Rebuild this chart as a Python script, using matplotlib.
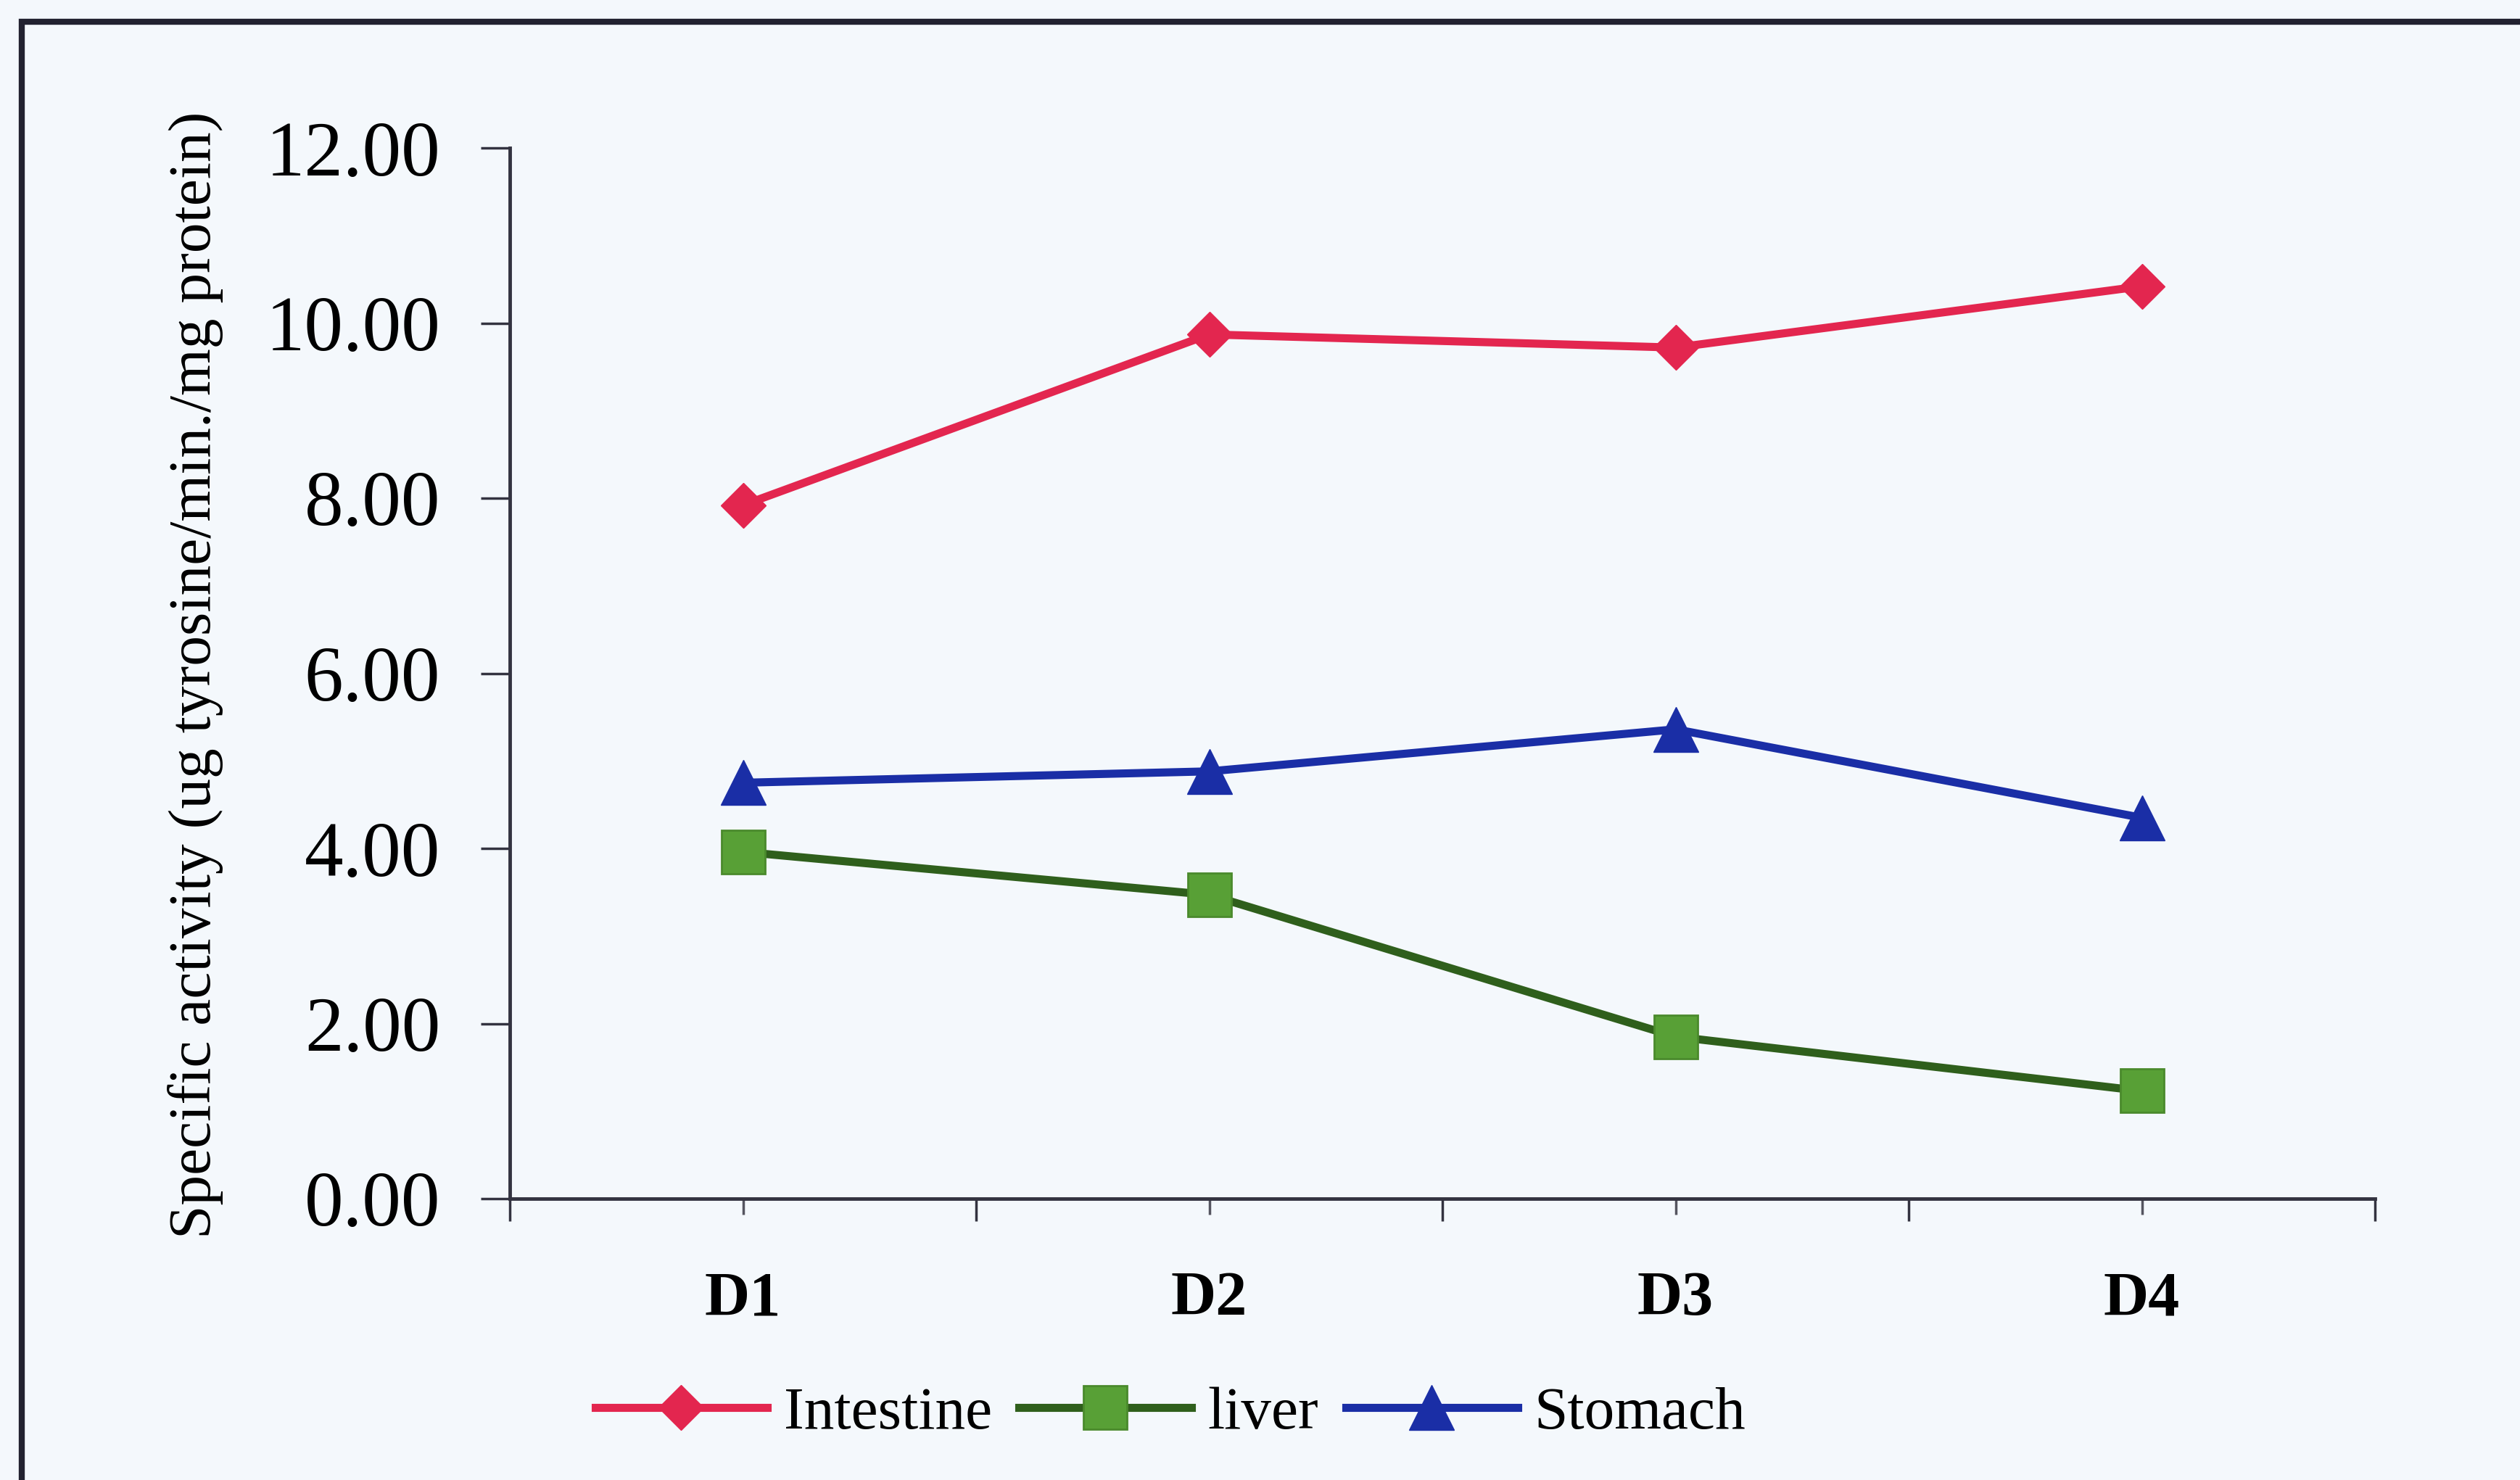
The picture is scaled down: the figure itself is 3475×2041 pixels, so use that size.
import matplotlib
matplotlib.use("Agg")
import matplotlib.pyplot as plt
from matplotlib.patches import Rectangle

categories = ["D1", "D2", "D3", "D4"]
intestine = [7.92, 9.87, 9.72, 10.42]
liver = [3.96, 3.47, 1.85, 1.23]
stomach = [4.75, 4.88, 5.36, 4.35]
yticks = [0, 2, 4, 6, 8, 10, 12]
ylabel = "Specific activity (ug tyrosine/min./mg protein)"

W, H = 3475, 2041
DPI = 100
bg = "#f4f8fc"
plt.rcParams['font.family'] = ['Liberation Serif', 'DejaVu Serif']

fig = plt.figure(figsize=(W / DPI, H / DPI), dpi=DPI, facecolor=bg)
# axes: left spine x=703, right end 3275, y0 at 1653, y12 at 204
ax = fig.add_axes([703 / W, 1 - 1653 / H, (3275 - 703) / W, (1653 - 204) / H])
ax.set_facecolor(bg)

x = list(range(len(categories)))
ax.plot(x, intestine, color="#e3264f", lw=8, marker="D", ms=32,
        mfc="#e3264f", mec="#e3264f", label="Intestine", zorder=3)
ax.plot(x, liver, color="#2f5f1c", lw=8, marker="s", ms=43,
        mfc="#58a036", mec="#4a8a2c", mew=2, label="liver", zorder=3)
ax.plot(x, stomach, color="#1a2ea6", lw=8, marker="^", ms=44,
        mfc="#1a2ea6", mec="#1a2ea6", label="Stomach", zorder=3)

ax.set_xlim(-0.5, len(categories) - 0.5)
ax.set_ylim(0, 12)
ax.set_yticks(yticks)
ax.set_yticklabels([f"{v:.2f}" for v in yticks], fontsize=77)
ax.set_xticks(x)
ax.set_xticklabels(categories, fontsize=62, fontweight="bold")
ax.set_xticks([i - 0.5 for i in range(len(categories) + 1)], minor=True)

for s in ["top", "right"]:
    ax.spines[s].set_visible(False)
for s in ["left", "bottom"]:
    ax.spines[s].set_linewidth(3.5)
    ax.spines[s].set_color("#333340")

ax.tick_params(axis="y", length=29, width=2.5, pad=40, color="#333340")
ax.tick_params(axis="x", which="major", length=16, width=2.5, pad=56, color="#555560")
ax.tick_params(axis="x", which="minor", length=22, width=2.5, color="#333340")

fig.text(270 / W, 1 - 931 / H, ylabel, rotation=90, ha="center", va="center",
         fontsize=60)

leg = fig.legend(loc="center", bbox_to_anchor=(1614 / W, 1 - 1950 / H), ncol=3,
                 frameon=False, fontsize=60, handlelength=2.85, handletextpad=0.27,
                 columnspacing=0.45, borderpad=0)

# border frame (cropped on right/bottom)
fig.patches.append(Rectangle((30 / W, -0.1), 1.2, 1 - 30 / H + 0.1,
                             transform=fig.transFigure, fill=False,
                             edgecolor="#222230", lw=6, zorder=0))

fig.savefig("out.png", dpi=DPI, facecolor=bg)
